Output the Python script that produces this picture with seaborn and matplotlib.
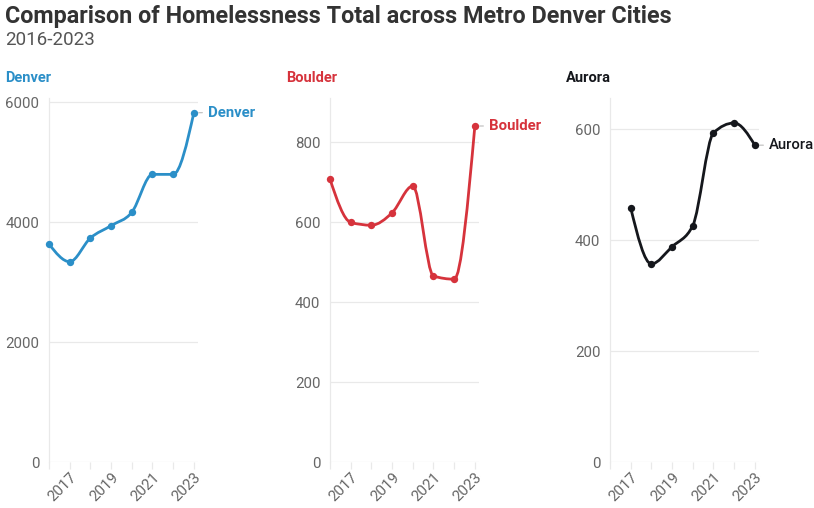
import numpy as np
import pandas as pd
import matplotlib
matplotlib.use("Agg")
import matplotlib.pyplot as plt
from matplotlib.path import Path
from matplotlib.patches import PathPatch
import seaborn as sns

# Data
denver_years = [2016, 2017, 2018, 2019, 2020, 2021, 2022, 2023]
denver_total = [3633, 3338, 3733, 3939, 4161, 4794, 4794, 5822]

boulder_years = [2016, 2017, 2018, 2019, 2020, 2021, 2022, 2023]
boulder_total = [707, 599, 592, 623, 690, 465, 457, 840]

aurora_years = [2017, 2018, 2019, 2020, 2021, 2022, 2023]
aurora_total = [458, 357, 388, 426, 593, 611, 571]

cities = ["Denver", "Boulder", "Aurora"]
colors = {"Denver": "#2b8fc8", "Boulder": "#d6333c", "Aurora": "#15171c"}
yticks = {"Denver": [0, 2000, 4000, 6000],
          "Boulder": [0, 200, 400, 600, 800],
          "Aurora": [0, 200, 400, 600]}
ytop = {"Denver": 6067, "Boulder": 910, "Aurora": 656}

df = pd.concat([
    pd.DataFrame({"year": denver_years, "total": denver_total, "city": "Denver"}),
    pd.DataFrame({"year": boulder_years, "total": boulder_total, "city": "Boulder"}),
    pd.DataFrame({"year": aurora_years, "total": aurora_total, "city": "Aurora"}),
])

sns.set_theme(style="white")
plt.rcParams["font.family"] = ["Roboto", "DejaVu Sans"]


def monotone_path(x, y):
    # d3 curveMonotoneX style cubic bezier path through the points
    x = np.asarray(x, float)
    y = np.asarray(y, float)
    n = len(x)
    h = np.diff(x)
    s = np.diff(y) / h
    t = np.zeros(n)
    for i in range(1, n - 1):
        p = (s[i - 1] * h[i] + s[i] * h[i - 1]) / (h[i - 1] + h[i])
        t[i] = (np.sign(s[i - 1]) + np.sign(s[i])) * min(abs(s[i - 1]), abs(s[i]), 0.5 * abs(p))
    t[0] = (3 * s[0] - t[1]) / 2
    t[-1] = (3 * s[-1] - t[-2]) / 2
    verts = [(x[0], y[0])]
    codes = [Path.MOVETO]
    for i in range(n - 1):
        dx = h[i] / 3
        verts += [(x[i] + dx, y[i] + dx * t[i]),
                  (x[i + 1] - dx, y[i + 1] - dx * t[i + 1]),
                  (x[i + 1], y[i + 1])]
        codes += [Path.CURVE4] * 3
    return Path(verts, codes)


fig = plt.figure(figsize=(8.14, 5.08), dpi=100)

lefts = {"Denver": 49, "Boulder": 330, "Aurora": 610}
W, H = 814, 508
grid_c = "#e9e9e9"

for city in cities:
    ax = fig.add_axes([lefts[city] / W, 1 - 462 / H, 149 / W, (462 - 98) / H])
    sub = df[df["city"] == city]
    c = colors[city]

    ax.add_patch(PathPatch(monotone_path(sub["year"], sub["total"]),
                           facecolor="none", edgecolor=c, lw=2.0, clip_on=False,
                           capstyle="round", joinstyle="round", zorder=3))
    sns.scatterplot(data=sub, x="year", y="total", ax=ax, color=c, s=28,
                    edgecolor=c, linewidth=0, zorder=4, legend=False,
                    clip_on=False)

    ax.set_xlim(2016, 2023.2)
    ax.set_ylim(0, ytop[city])
    ax.set_yticks(yticks[city])
    ax.set_yticklabels([str(v) for v in yticks[city]])
    ax.set_xticks([2017, 2019, 2021, 2023])
    ax.set_xticklabels(["2017", "2019", "2021", "2023"])
    ax.set_xticks([2016, 2018, 2020, 2022], minor=True)
    ax.yaxis.grid(True, color=grid_c, lw=0.9)
    ax.set_axisbelow(True)
    for side in ["top", "right", "bottom"]:
        ax.spines[side].set_visible(False)
    ax.spines["left"].set_color(grid_c)
    ax.spines["left"].set_linewidth(0.9)
    ax.tick_params(axis="y", length=5, color=grid_c, width=0.9,
                   labelsize=10.8, labelcolor="#666666", pad=2)
    ax.tick_params(axis="x", which="both", length=5, color=grid_c, width=0.9,
                   direction="out", bottom=True, labelsize=10.8,
                   labelcolor="#666666", pad=1)
    for lab in ax.get_xticklabels():
        lab.set_rotation(45)
        lab.set_ha("right")
        lab.set_va("top")
        lab.set_rotation_mode("anchor")
    ax.set_xlabel("")
    ax.set_ylabel("")

    # panel title
    fig.text((lefts[city] - 44) / W, 1 - 78 / H, city, color=c,
             fontsize=10.5, fontweight="bold", va="center", ha="left")

    # direct label at the last point
    lx, ly = sub["year"].iloc[-1], sub["total"].iloc[-1]
    ax.annotate(city, xy=(lx, ly), xytext=(10, 0), textcoords="offset points",
                ha="left", va="center", color=c, fontsize=10.7,
                fontweight="bold" if city != "Aurora" else "medium",
                annotation_clip=False,
                arrowprops=dict(arrowstyle="-", color="#bbbbbb", lw=0.8,
                                shrinkA=1.5, shrinkB=3.5))

fig.text(5 / W, 1 - 17 / H, "Comparison of Homelessness Total across Metro Denver Cities",
         fontsize=16.8, fontweight="bold", color="#333333", va="center", ha="left")
fig.text(5 / W, 1 - 40 / H, "2016-2023", fontsize=13.5, color="#555555",
         va="center", ha="left")

fig.savefig("out.png", dpi=100)
